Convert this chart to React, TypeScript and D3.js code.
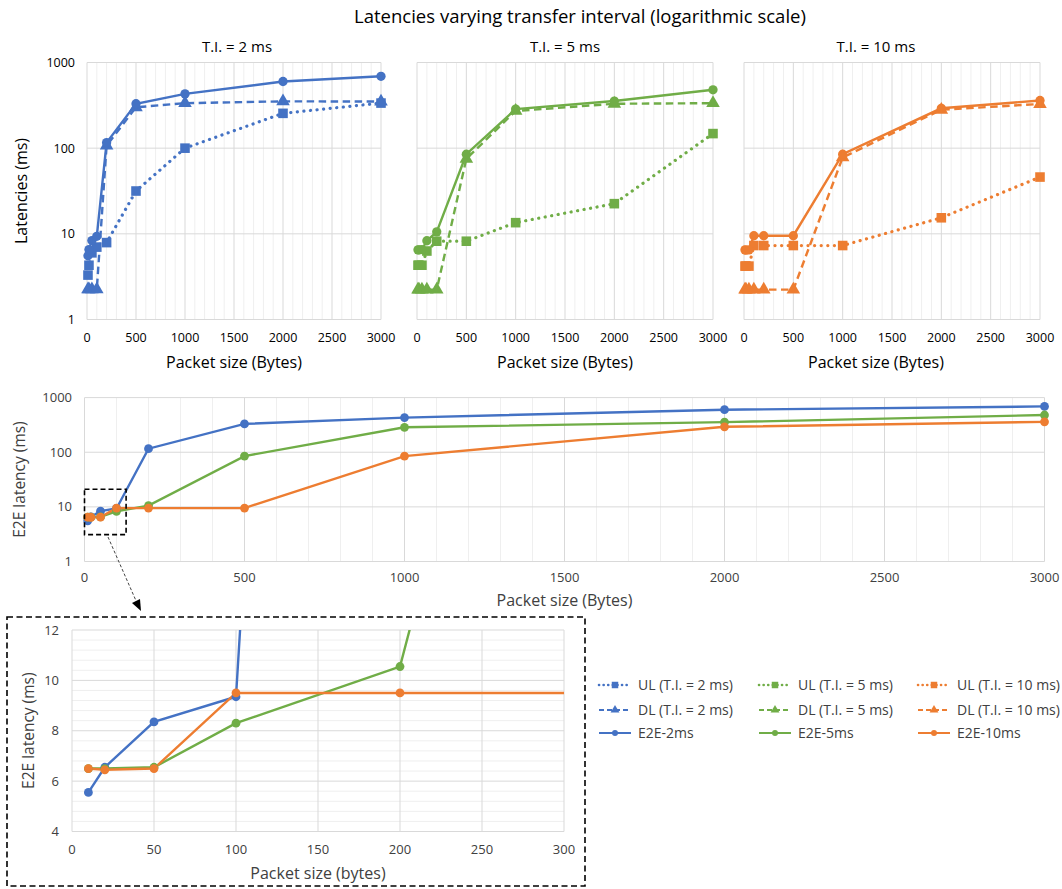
import React from "react";
import * as d3 from "d3";

const packetSizes = [10, 20, 50, 100, 200, 500, 1000, 2000, 3000];

const ul2 = [3.3, 4.3, 6.0, 7.0, 7.9, 31.6, 100, 255, 336];
const dl2 = [2.25, 2.25, 2.25, 2.25, 107, 300, 335, 352, 350];
const e2e2 = [5.55, 6.55, 8.35, 9.35, 116, 330, 430, 600, 690];

const ul5 = [4.3, 4.3, 4.3, 6.3, 8.2, 8.2, 13.5, 22.5, 148];
const dl5 = [2.23, 2.23, 2.23, 2.23, 2.23, 75, 272, 330, 335];
const e2e5 = [6.5, 6.5, 6.55, 8.3, 10.55, 85, 286, 355, 480];

const ul10 = [4.2, 4.2, 4.2, 7.3, 7.3, 7.3, 7.3, 15.4, 46];
const dl10 = [2.23, 2.23, 2.23, 2.23, 2.23, 2.23, 78, 281, 328];
const e2e10 = [6.5, 6.45, 6.5, 9.5, 9.5, 9.5, 85, 292, 360];

const logTicks = [1, 10, 100, 1000];
const xTicksMain = [0, 500, 1000, 1500, 2000, 2500, 3000];
const xTicksInset = [0, 50, 100, 150, 200, 250, 300];
const yTicksInset = [4, 6, 8, 10, 12];

const BLUE = "#4472C4";
const GREEN = "#70AD47";
const ORANGE = "#ED7D31";
const TXT = "#404040";
const GRID = "#d9d9d9";
const GRID_MINOR = "#efefef";

const panels = [
  { title: "T.I. = 2 ms", color: BLUE, ul: ul2, dl: dl2, e2e: e2e2, left: 87, right: 381, titleX: 237, showY: true },
  { title: "T.I. = 5 ms", color: GREEN, ul: ul5, dl: dl5, e2e: e2e5, left: 417, right: 713, titleX: 565, showY: false },
  { title: "T.I. = 10 ms", color: ORANGE, ul: ul10, dl: dl10, e2e: e2e10, left: 744, right: 1040, titleX: 876, showY: false },
];

const legendItems = [
  { label: "UL (T.I. = 2 ms)", color: BLUE, kind: "ul" },
  { label: "DL (T.I. = 2 ms)", color: BLUE, kind: "dl" },
  { label: "E2E-2ms", color: BLUE, kind: "e2e" },
  { label: "UL (T.I. = 5 ms)", color: GREEN, kind: "ul" },
  { label: "DL (T.I. = 5 ms)", color: GREEN, kind: "dl" },
  { label: "E2E-5ms", color: GREEN, kind: "e2e" },
  { label: "UL (T.I. = 10 ms)", color: ORANGE, kind: "ul" },
  { label: "DL (T.I. = 10 ms)", color: ORANGE, kind: "dl" },
  { label: "E2E-10ms", color: ORANGE, kind: "e2e" },
];

const NARROW = "'Open Sans', 'Noto Sans', sans-serif";
const SANS = "'Open Sans', 'Noto Sans', sans-serif";

const sqPath = d3.symbol(d3.symbolSquare, 92)();
const triPath = d3.symbol(d3.symbolTriangle, 80)();
const circPath = d3.symbol(d3.symbolCircle, 68)();

function Marker({ kind, x, y, color, small }: any) {
  let p = kind === "ul" ? sqPath : kind === "dl" ? triPath : circPath;
  if (small) {
    p = kind === "ul" ? d3.symbol(d3.symbolSquare, 42)() : kind === "dl" ? d3.symbol(d3.symbolTriangle, 34)() : d3.symbol(d3.symbolCircle, 28)();
  }
  return <path d={p as string} transform={`translate(${x},${y})`} fill={color} />;
}

function TopPanel({ p, idx }: any) {
  const top = 62.5, bottom = 319.5;
  const x = d3.scaleLinear().domain([0, 3000]).range([p.left, p.right]);
  const y = d3.scaleLog().domain([1, 1000]).range([bottom, top]);
  const line = (vals: number[]) =>
    d3.line<number>().x((_, i) => x(packetSizes[i])).y((v) => y(v))(vals) as string;
  const minor = d3.range(100, 3000, 100).filter((v) => v % 500 !== 0);
  const series = [
    { kind: "ul", vals: p.ul },
    { kind: "dl", vals: p.dl },
    { kind: "e2e", vals: p.e2e },
  ];
  return (
    <g>
      {minor.map((v) => (
        <line key={"m" + v} x1={x(v)} x2={x(v)} y1={top} y2={bottom} stroke={GRID_MINOR} strokeWidth={1} />
      ))}
      {xTicksMain.map((v) => (
        <line key={"g" + v} x1={x(v)} x2={x(v)} y1={top} y2={bottom} stroke={GRID} strokeWidth={1} />
      ))}
      {logTicks.map((v) => (
        <line key={"h" + v} x1={p.left} x2={p.right} y1={y(v)} y2={y(v)} stroke={GRID} strokeWidth={1} />
      ))}
      {series.map((s) => (
        <path key={s.kind} d={line(s.vals)} fill="none" stroke={p.color}
          strokeWidth={s.kind === "ul" ? 3.2 : 2.4}
          strokeDasharray={s.kind === "ul" ? "0.1 6.5" : s.kind === "dl" ? "7.5 4.5" : undefined}
          strokeLinecap={s.kind === "ul" ? "round" : "butt"} />
      ))}
      {series.map((s) =>
        s.vals.map((v: number, i: number) => (
          <Marker key={s.kind + i} kind={s.kind} x={x(packetSizes[i])} y={y(v)} color={p.color} />
        ))
      )}
      <text x={p.titleX} y={52} textAnchor="middle" fontFamily={NARROW} fontSize={15} fill="#000">{p.title}</text>
      {xTicksMain.map((v) => (
        <text key={"xt" + v} x={x(v)} y={342} textAnchor="middle" fontFamily={NARROW} fontSize={12.5} fill="#000">{v}</text>
      ))}
      <text x={(p.left + p.right) / 2 - (idx === 2 ? 16 : 0)} y={368} textAnchor="middle" fontFamily={NARROW} fontSize={16} fill="#000">Packet size (Bytes)</text>
      {p.showY && logTicks.map((v) => (
        <text key={"yt" + v} x={75} y={y(v) + 4.5} textAnchor="end" fontFamily={NARROW} fontSize={12.5} fill="#000">{v}</text>
      ))}
      {p.showY && (
        <text transform={`translate(27,${(top + bottom) / 2}) rotate(-90)`} textAnchor="middle" fontFamily={NARROW} fontSize={16} fill="#000">Latencies (ms)</text>
      )}
    </g>
  );
}

function MiddleChart() {
  const left = 84.5, right = 1044.5, top = 397.6, bottom = 561.5;
  const x = d3.scaleLinear().domain([0, 3000]).range([left, right]);
  const y = d3.scaleLog().domain([1, 1000]).range([bottom, top]);
  const minor = d3.range(100, 3000, 100).filter((v) => v % 500 !== 0);
  const series = [
    { vals: e2e2, color: BLUE },
    { vals: e2e5, color: GREEN },
    { vals: e2e10, color: ORANGE },
  ];
  const line = (vals: number[]) =>
    d3.line<number>().x((_, i) => x(packetSizes[i])).y((v) => y(v))(vals) as string;
  const zoomBox = { x0: 0, x1: 130, y0: 21, y1: 3.1 };
  return (
    <g>
      {minor.map((v) => (
        <line key={"m" + v} x1={x(v)} x2={x(v)} y1={top} y2={bottom} stroke={GRID_MINOR} />
      ))}
      {xTicksMain.map((v) => (
        <line key={"g" + v} x1={x(v)} x2={x(v)} y1={top} y2={bottom} stroke={GRID} />
      ))}
      {logTicks.map((v) => (
        <line key={"h" + v} x1={left} x2={right} y1={y(v)} y2={y(v)} stroke={GRID} />
      ))}
      {series.map((s, k) => (
        <path key={k} d={line(s.vals)} fill="none" stroke={s.color} strokeWidth={2.4} />
      ))}
      {series.map((s, k) =>
        s.vals.map((v, i) => (
          <circle key={k + "-" + i} cx={x(packetSizes[i])} cy={y(v)} r={4.4} fill={s.color} />
        ))
      )}
      <rect x={x(zoomBox.x0)} y={y(zoomBox.y0)} width={x(zoomBox.x1) - x(zoomBox.x0)} height={y(zoomBox.y1) - y(zoomBox.y0)}
        fill="none" stroke="#000" strokeWidth={1.6} strokeDasharray="5 3" />
      {xTicksMain.map((v) => (
        <text key={"xt" + v} x={x(v)} y={582} textAnchor="middle" fontFamily={SANS} fontSize={13} fill={TXT}>{v}</text>
      ))}
      {logTicks.map((v) => (
        <text key={"yt" + v} x={72} y={y(v) + 4.5} textAnchor="end" fontFamily={SANS} fontSize={13} fill={TXT}>{v}</text>
      ))}
      <text x={(left + right) / 2} y={606} textAnchor="middle" fontFamily={SANS} fontSize={16} fill={TXT}>Packet size (Bytes)</text>
      <text transform={`translate(25,${(top + bottom) / 2}) rotate(-90)`} textAnchor="middle" fontFamily={SANS} fontSize={15.5} fill={TXT}>E2E latency (ms)</text>
    </g>
  );
}

function Inset() {
  const left = 72, right = 564, top = 630, bottom = 831.5;
  const x = d3.scaleLinear().domain([0, 300]).range([left, right]);
  const y = d3.scaleLinear().domain([4, 12]).range([bottom, top]);
  const minorY = d3.range(4, 12.001, 0.4).filter((v) => Math.abs(v / 2 - Math.round(v / 2)) > 0.01);
  const series = [
    { vals: e2e2, color: BLUE },
    { vals: e2e5, color: GREEN },
    { vals: e2e10, color: ORANGE },
  ];
  const line = (vals: number[]) =>
    d3.line<number>().x((_, i) => x(packetSizes[i])).y((v) => y(v))(vals) as string;
  return (
    <g>
      <rect x={7} y={617} width={578} height={269} fill="none" stroke="#000" strokeWidth={1.6} strokeDasharray="6 3.5" />
      <defs>
        <clipPath id="insetClip">
          <rect x={left} y={top} width={right - left} height={bottom - top} />
        </clipPath>
      </defs>
      {minorY.map((v) => (
        <line key={"my" + v} x1={left} x2={right} y1={y(v)} y2={y(v)} stroke={GRID_MINOR} />
      ))}
      {xTicksInset.map((v) => (
        <line key={"gx" + v} x1={x(v)} x2={x(v)} y1={top} y2={bottom} stroke={GRID} />
      ))}
      {yTicksInset.map((v) => (
        <line key={"gy" + v} x1={left} x2={right} y1={y(v)} y2={y(v)} stroke={GRID} />
      ))}
      <g clipPath="url(#insetClip)">
        {series.map((s, k) => (
          <path key={k} d={line(s.vals)} fill="none" stroke={s.color} strokeWidth={2.4} />
        ))}
      </g>
      {series.map((s, k) =>
        s.vals.map((v, i) =>
          packetSizes[i] <= 300 && v <= 12 ? (
            <circle key={k + "-" + i} cx={x(packetSizes[i])} cy={y(v)} r={4.4} fill={s.color} />
          ) : null
        )
      )}
      {xTicksInset.map((v) => (
        <text key={"xt" + v} x={x(v)} y={854} textAnchor="middle" fontFamily={SANS} fontSize={13} fill={TXT}>{v}</text>
      ))}
      {yTicksInset.map((v) => (
        <text key={"yt" + v} x={59} y={y(v) + 4.5} textAnchor="end" fontFamily={SANS} fontSize={13} fill={TXT}>{v}</text>
      ))}
      <text x={(left + right) / 2} y={879} textAnchor="middle" fontFamily={SANS} fontSize={16} fill={TXT}>Packet size (bytes)</text>
      <text transform={`translate(34,${(top + bottom) / 2}) rotate(-90)`} textAnchor="middle" fontFamily={SANS} fontSize={15.5} fill={TXT}>E2E latency (ms)</text>
    </g>
  );
}

function Legend() {
  const colX = [599, 759, 918];
  const rowY = [685, 710, 733];
  return (
    <g>
      {legendItems.map((it, i) => {
        const cx = colX[Math.floor(i / 3)];
        const cy = rowY[i % 3];
        return (
          <g key={i}>
            <line x1={cx} x2={cx + 32} y1={cy} y2={cy} stroke={it.color} strokeWidth={it.kind === "ul" ? 2.6 : 2}
              strokeDasharray={it.kind === "ul" ? "0.1 4.5" : it.kind === "dl" ? "5 3" : undefined}
              strokeLinecap={it.kind === "ul" ? "round" : "butt"} />
            <Marker kind={it.kind} x={cx + 16} y={cy} color={it.color} small />
            <text x={cx + 39} y={cy + 5} fontFamily={SANS} fontSize={14} fill={TXT}>{it.label}</text>
          </g>
        );
      })}
    </g>
  );
}

export default function App() {
  return (
    <svg width={1062} height={889} style={{ position: "absolute", left: 0, top: 0, background: "#fff" }}>
      <rect width={1062} height={889} fill="#fff" />
      <text x={580} y={23} textAnchor="middle" fontFamily={NARROW} fontSize={18.5} fill="#000">
        Latencies varying transfer interval (logarithmic scale)
      </text>
      {panels.map((p, i) => (
        <TopPanel key={i} p={p} idx={i} />
      ))}
      <MiddleChart />
      <Legend />
      <Inset />
      <line x1={108} y1={537} x2={137} y2={603} stroke="#444" strokeWidth={1} strokeDasharray="3 2" />
      <path d="M141,611 L132,603 L140,599 Z" fill="#000" />
    </svg>
  );
}
